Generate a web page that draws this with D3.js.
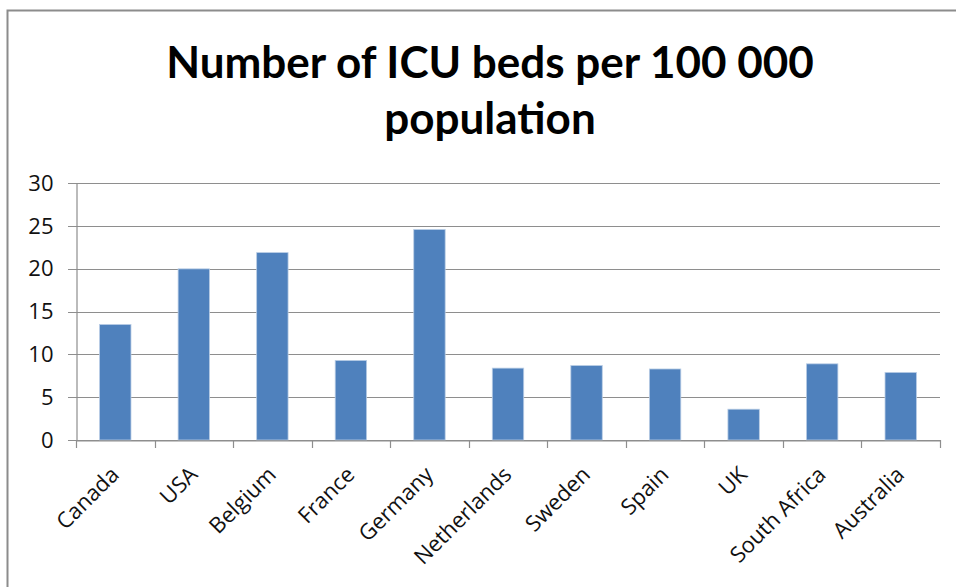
<!DOCTYPE html>
<html><head><meta charset="utf-8">
<script src="https://cdn.jsdelivr.net/npm/d3@7"></script>
<style>body{margin:0;background:#fff}svg{display:block}</style>
</head><body>
<svg id="c" width="956" height="587"></svg>
<script>
const categories = ["Canada","USA","Belgium","France","Germany","Netherlands","Sweden","Spain","UK","South Africa","Australia"];
const values = [13.5, 20.0, 21.9, 9.3, 24.6, 8.4, 8.7, 8.3, 3.6, 8.9, 7.9];
const yTicks = [0, 5, 10, 15, 20, 25, 30];
const titleLines = ["Number of ICU beds per 100 000", "population"];

const svg = d3.select("#c");
const font = "'Open Sans', sans-serif";
const titleFont = "Lato, 'Open Sans', sans-serif";
// frame
svg.append("path").attr("d","M7.5,587 V10.5 H956").attr("fill","none").attr("stroke","#8c8c8c").attr("stroke-width",2);

const x = d3.scaleBand().domain(categories).range([76, 940]).paddingInner(0.6).paddingOuter(0.3);
const y = d3.scaleLinear().domain([0, 30]).range([440, 183.3]);

// gridlines
svg.append("g").selectAll("line").data(yTicks).join("line")
  .attr("x1", 68).attr("x2", 940)
  .attr("y1", d => Math.round(y(d)) + 0.5).attr("y2", d => Math.round(y(d)) + 0.5)
  .attr("stroke", "#8e8e8e").attr("stroke-width", 1.2);

// y axis
const yAxis = svg.append("g").attr("transform","translate(76.5,0)")
  .call(d3.axisLeft(y).tickValues(yTicks).tickSize(0).tickPadding(23));
yAxis.select(".domain").attr("stroke","#8e8e8e").attr("stroke-width",1.2);
yAxis.selectAll("text").attr("font-family", font).attr("font-size", 22).attr("fill","#111");

// bars
svg.append("g").selectAll("rect").data(values).join("rect")
  .attr("x", (d,i) => x(categories[i]))
  .attr("width", x.bandwidth())
  .attr("y", d => y(d))
  .attr("height", d => y(0) - y(d))
  .attr("fill", "#4f81bd").attr("stroke","#b9cde5").attr("stroke-width",0.8);

// x axis
const xAxis = svg.append("g").attr("transform","translate(0," + (Math.round(y(0)) + 0.5) + ")")
  .call(d3.axisBottom(x).tickSize(0).tickFormat(""));
xAxis.select(".domain").attr("stroke","#8e8e8e").attr("stroke-width",1.2);
const step = x.step();
const bounds = d3.range(categories.length + 1).map(i => 76 + i * step);
svg.append("g").selectAll("line").data(bounds).join("line")
  .attr("x1", d => Math.round(d) + 0.5).attr("x2", d => Math.round(d) + 0.5)
  .attr("y1", 440).attr("y2", 448)
  .attr("stroke", "#8e8e8e").attr("stroke-width", 1.2);

// x labels
svg.append("g").selectAll("text").data(categories).join("text")
  .attr("transform", d => `translate(${x(d) + x.bandwidth()/2 + 5},${476}) rotate(-45)`)
  .attr("text-anchor","end")
  .attr("font-family", font).attr("font-size", 22).attr("fill","#111")
  .text(d => d);

// title
svg.append("g").selectAll("text").data(titleLines).join("text")
  .attr("x", 490).attr("y", (d,i) => 78 + i * 56)
  .attr("text-anchor","middle")
  .attr("font-family", titleFont).attr("font-weight","bold").attr("font-size", 44).attr("fill","#000")
  .text(d => d);
</script>
</body></html>
